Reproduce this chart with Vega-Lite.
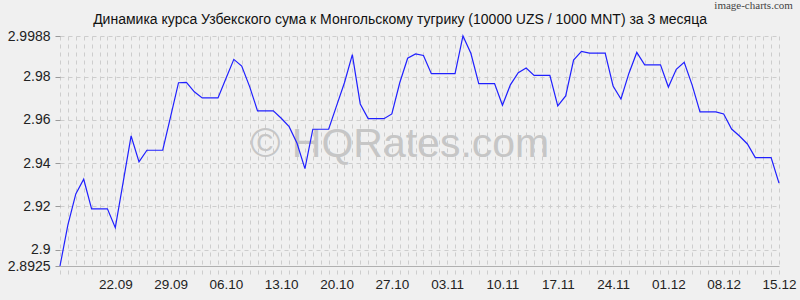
{
  "$schema": "https://vega.github.io/schema/vega-lite/v6.json",
  "width": 719,
  "height": 230,
  "autosize": "none",
  "padding": {"left": 60, "top": 36, "right": 21, "bottom": 34},
  "background": "#f0f0f0",
  "config": {
    "view": {"stroke": null},
    "axis": {"labelFont": "Liberation Sans", "labelColor": "#222222"}
  },
  "datasets": {
    "rates": [
      {"date": "2025-09-15", "rate": 2.8925},
      {"date": "2025-09-16", "rate": 2.9115},
      {"date": "2025-09-17", "rate": 2.9258},
      {"date": "2025-09-18", "rate": 2.9326},
      {"date": "2025-09-19", "rate": 2.9189},
      {"date": "2025-09-20", "rate": 2.9189},
      {"date": "2025-09-21", "rate": 2.9189},
      {"date": "2025-09-22", "rate": 2.9102},
      {"date": "2025-09-23", "rate": 2.9314},
      {"date": "2025-09-24", "rate": 2.9526},
      {"date": "2025-09-25", "rate": 2.9406},
      {"date": "2025-09-26", "rate": 2.9460},
      {"date": "2025-09-27", "rate": 2.9460},
      {"date": "2025-09-28", "rate": 2.9460},
      {"date": "2025-09-29", "rate": 2.9615},
      {"date": "2025-09-30", "rate": 2.9772},
      {"date": "2025-10-01", "rate": 2.9774},
      {"date": "2025-10-02", "rate": 2.9730},
      {"date": "2025-10-03", "rate": 2.9702},
      {"date": "2025-10-04", "rate": 2.9702},
      {"date": "2025-10-05", "rate": 2.9702},
      {"date": "2025-10-06", "rate": 2.9792},
      {"date": "2025-10-07", "rate": 2.9880},
      {"date": "2025-10-08", "rate": 2.9849},
      {"date": "2025-10-09", "rate": 2.9754},
      {"date": "2025-10-10", "rate": 2.9642},
      {"date": "2025-10-11", "rate": 2.9642},
      {"date": "2025-10-12", "rate": 2.9642},
      {"date": "2025-10-13", "rate": 2.9608},
      {"date": "2025-10-14", "rate": 2.9569},
      {"date": "2025-10-15", "rate": 2.9492},
      {"date": "2025-10-16", "rate": 2.9375},
      {"date": "2025-10-17", "rate": 2.9557},
      {"date": "2025-10-18", "rate": 2.9557},
      {"date": "2025-10-19", "rate": 2.9557},
      {"date": "2025-10-20", "rate": 2.9665},
      {"date": "2025-10-21", "rate": 2.9772},
      {"date": "2025-10-22", "rate": 2.9902},
      {"date": "2025-10-23", "rate": 2.9674},
      {"date": "2025-10-24", "rate": 2.9606},
      {"date": "2025-10-25", "rate": 2.9606},
      {"date": "2025-10-26", "rate": 2.9606},
      {"date": "2025-10-27", "rate": 2.9628},
      {"date": "2025-10-28", "rate": 2.9772},
      {"date": "2025-10-29", "rate": 2.9885},
      {"date": "2025-10-30", "rate": 2.9905},
      {"date": "2025-10-31", "rate": 2.9898},
      {"date": "2025-11-01", "rate": 2.9814},
      {"date": "2025-11-02", "rate": 2.9814},
      {"date": "2025-11-03", "rate": 2.9814},
      {"date": "2025-11-04", "rate": 2.9814},
      {"date": "2025-11-05", "rate": 2.9988},
      {"date": "2025-11-06", "rate": 2.9908},
      {"date": "2025-11-07", "rate": 2.9768},
      {"date": "2025-11-08", "rate": 2.9768},
      {"date": "2025-11-09", "rate": 2.9768},
      {"date": "2025-11-10", "rate": 2.9668},
      {"date": "2025-11-11", "rate": 2.9762},
      {"date": "2025-11-12", "rate": 2.9818},
      {"date": "2025-11-13", "rate": 2.9840},
      {"date": "2025-11-14", "rate": 2.9806},
      {"date": "2025-11-15", "rate": 2.9806},
      {"date": "2025-11-16", "rate": 2.9806},
      {"date": "2025-11-17", "rate": 2.9665},
      {"date": "2025-11-18", "rate": 2.9711},
      {"date": "2025-11-19", "rate": 2.9877},
      {"date": "2025-11-20", "rate": 2.9917},
      {"date": "2025-11-21", "rate": 2.9909},
      {"date": "2025-11-22", "rate": 2.9909},
      {"date": "2025-11-23", "rate": 2.9909},
      {"date": "2025-11-24", "rate": 2.9757},
      {"date": "2025-11-25", "rate": 2.9697},
      {"date": "2025-11-26", "rate": 2.9815},
      {"date": "2025-11-27", "rate": 2.9912},
      {"date": "2025-11-28", "rate": 2.9855},
      {"date": "2025-11-29", "rate": 2.9855},
      {"date": "2025-11-30", "rate": 2.9855},
      {"date": "2025-12-01", "rate": 2.9752},
      {"date": "2025-12-02", "rate": 2.9834},
      {"date": "2025-12-03", "rate": 2.9866},
      {"date": "2025-12-04", "rate": 2.9762},
      {"date": "2025-12-05", "rate": 2.9637},
      {"date": "2025-12-06", "rate": 2.9637},
      {"date": "2025-12-07", "rate": 2.9637},
      {"date": "2025-12-08", "rate": 2.9628},
      {"date": "2025-12-09", "rate": 2.9558},
      {"date": "2025-12-10", "rate": 2.9526},
      {"date": "2025-12-11", "rate": 2.9489},
      {"date": "2025-12-12", "rate": 2.9426},
      {"date": "2025-12-13", "rate": 2.9426},
      {"date": "2025-12-14", "rate": 2.9426},
      {"date": "2025-12-15", "rate": 2.9308}
    ],
    "single": [{"note": "one"}]
  },
  "layer": [
    {
      "data": {"name": "single"},
      "mark": {"type": "text", "text": "© HQRates.com", "font": "Liberation Sans", "fontSize": 41, "color": "#c6c6c6", "align": "center", "baseline": "middle"},
      "encoding": {
        "x": {"datum": {"year": 2025, "month": 10, "date": 28, "utc": true}, "type": "temporal"},
        "y": {"datum": 2.9485, "type": "quantitative"}
      }
    },
    {
      "data": {"name": "rates"},
      "mark": {"type": "line", "color": "#2020ff", "strokeWidth": 1.2, "clip": false},
      "encoding": {
        "x": {
          "field": "date",
          "type": "temporal",
          "scale": {"type": "utc", "domain": [{"year": 2025, "month": 9, "date": 15, "utc": true}, {"year": 2025, "month": 12, "date": 15, "utc": true}], "nice": false},
          "axis": {
            "title": null,
            "tickCount": {"interval": "day", "step": 1},
            "labelExpr": "utcFormat(datum.value, '%u') == '1' && utcFormat(datum.value, '%d.%m') != '15.09' ? utcFormat(datum.value, '%d.%m') : ''",
            "labelOverlap": false,
            "labelFlush": false,
            "labelBound": false,
            "labelFontSize": 13.5,
            "labelPadding": 2,
            "grid": true,
            "gridColor": "#cdcdcd",
            "gridDash": [4, 4],
            "tickColor": "#cdcdcd",
            "tickDash": [4, 4],
            "tickDashOffset": 4,
            "tickSize": 9,
            "domainColor": "#b0b0b0"
          }
        },
        "y": {
          "field": "rate",
          "type": "quantitative",
          "scale": {"domain": [2.8925, 2.9988], "nice": false, "zero": false},
          "axis": {
            "title": null,
            "values": [2.8925, 2.9, 2.92, 2.94, 2.96, 2.98, 2.9988],
            "tickCount": 20,
            "format": ".4~f",
            "labelOverlap": false,
            "labelFontSize": 14,
            "labelPadding": 5,
            "grid": true,
            "gridColor": "#cdcdcd",
            "gridDash": [4, 4],
            "domain": false,
            "tickSize": 5,
            "tickColor": "#999999"
          }
        }
      }
    },
    {
      "data": {"name": "single"},
      "mark": {"type": "text", "text": "Динамика курса Узбекского сума к Монгольскому тугрику (10000 UZS / 1000 MNT) за 3 месяца", "font": "Liberation Sans", "fontSize": 14, "color": "#111111", "align": "center", "baseline": "alphabetic"},
      "encoding": {
        "x": {"datum": {"year": 2025, "month": 10, "date": 28, "hours": 1, "utc": true}, "type": "temporal"},
        "y": {"datum": 3.0044, "type": "quantitative"}
      }
    },
    {
      "data": {"name": "single"},
      "mark": {"type": "text", "text": "image-charts.com", "font": "Liberation Sans Narrow", "fontSize": 11, "color": "#444444", "align": "right", "baseline": "middle"},
      "encoding": {
        "x": {"datum": {"year": 2025, "month": 12, "date": 16, "hours": 18, "utc": true}, "type": "temporal"},
        "y": {"datum": 3.0126, "type": "quantitative"}
      }
    }
  ]
}
